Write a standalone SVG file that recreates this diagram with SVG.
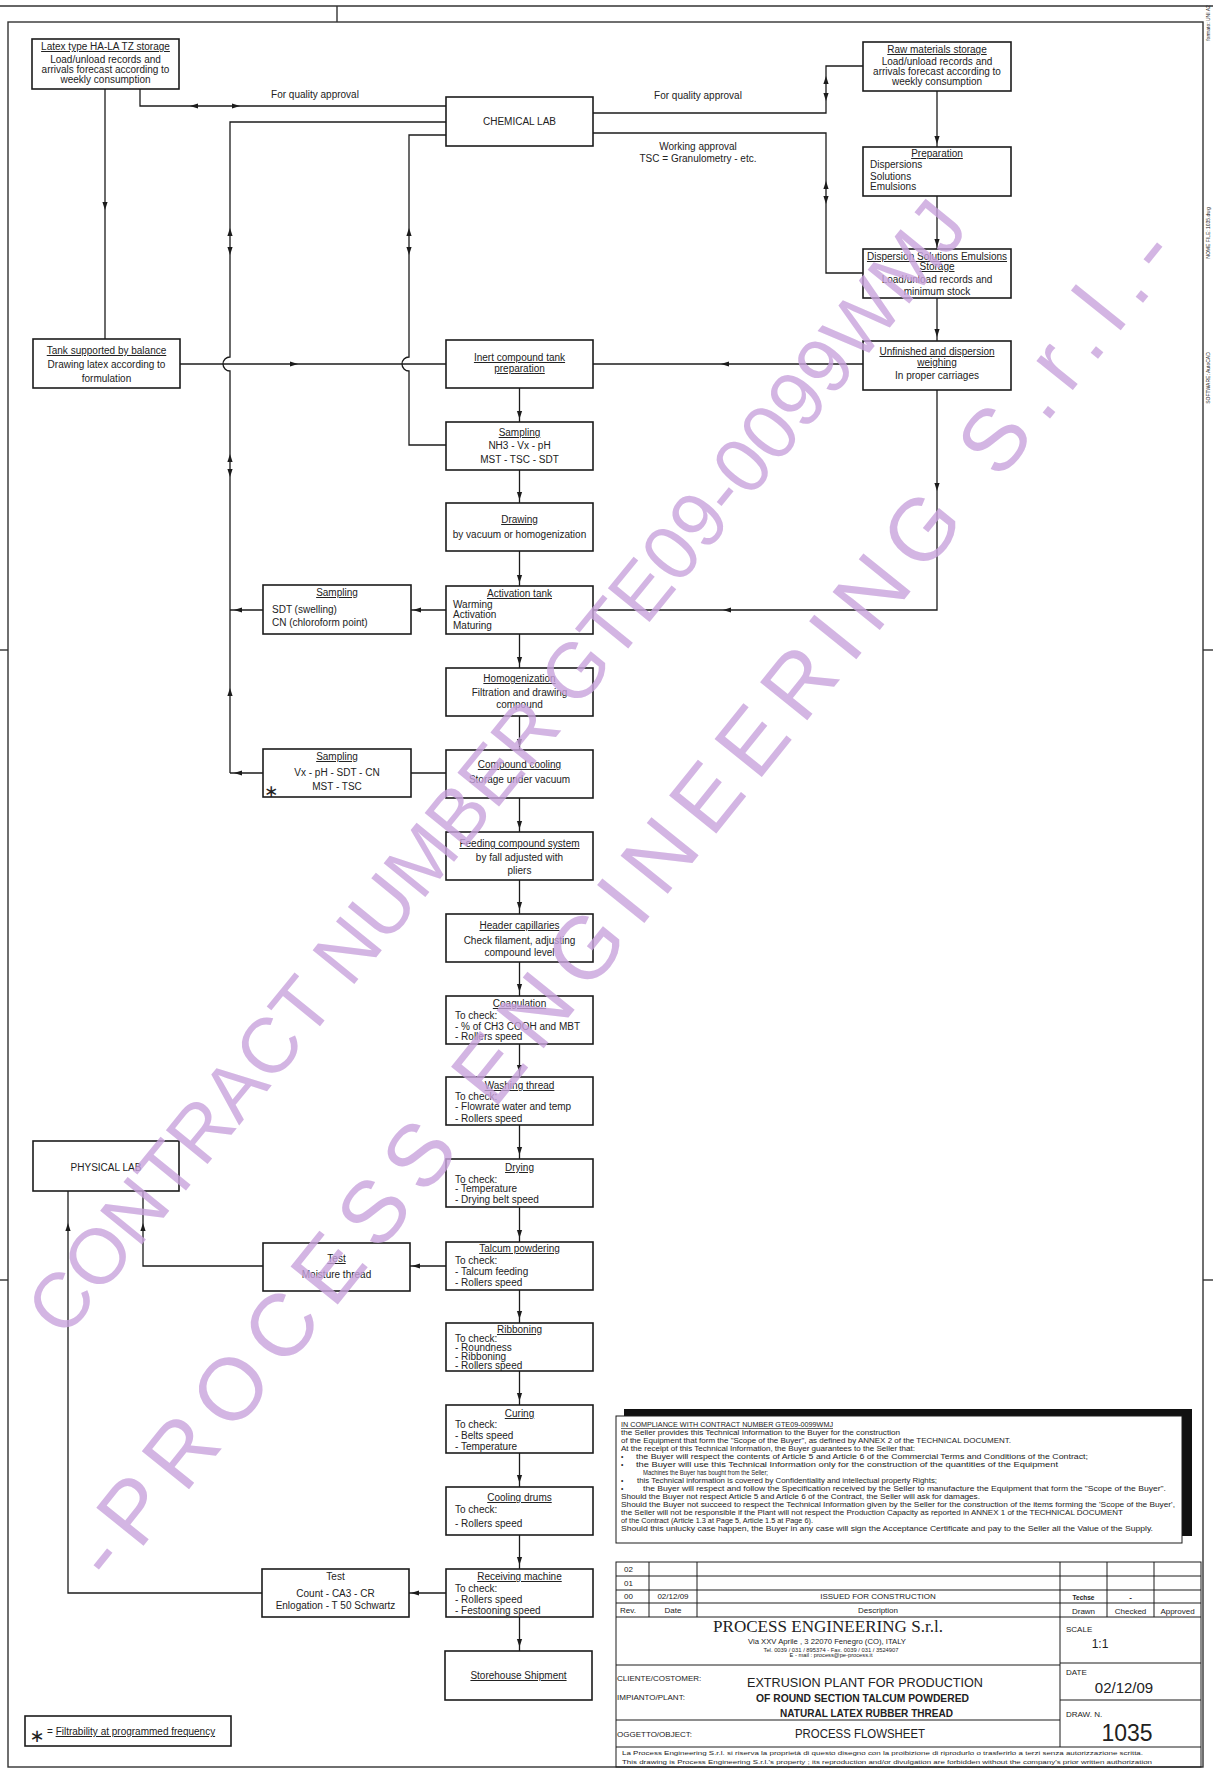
<svg xmlns="http://www.w3.org/2000/svg" width="1213" height="1769" viewBox="0 0 1213 1769">
<style>
.box{fill:#fff;stroke:#1c1c1c;stroke-width:1.6}
.ln{fill:none;stroke:#1c1c1c;stroke-width:1.3}
.fr{fill:none;stroke:#333;stroke-width:1.4}
text{font-family:"Liberation Sans",Arial,sans-serif;fill:#222}
.t{font-size:10px}
.c{text-anchor:middle}
.u{text-decoration:underline}
.s{font-size:8px}
.serif{font-family:"Liberation Serif","Times New Roman",serif}
.sym{font-family:"DejaVu Sans",sans-serif}
.wm{fill:#c9a3dd}
</style>
<defs>
<path id="ah" d="M0,0 L-8,-2.6 L-8,2.6 Z" fill="#1c1c1c"/>
</defs>
<rect width="1213" height="1769" fill="#fff"/>

<g id="frame">
<line class="fr" x1="0" y1="6" x2="1213" y2="6"/>
<line class="fr" x1="337" y1="6" x2="337" y2="22"/>
<rect class="fr" x="8" y="22" width="1195" height="1745"/>
<line class="fr" x1="0" y1="650" x2="8" y2="650"/>
<line class="fr" x1="0" y1="1280" x2="8" y2="1280"/>
<line class="fr" x1="1203" y1="650" x2="1213" y2="650"/>
<line class="fr" x1="1203" y1="1280" x2="1213" y2="1280"/>
<text font-size="5" transform="translate(1210,23) rotate(-90)" class="c">formato: UNI A2</text>
<text font-size="5" transform="translate(1210,233) rotate(-90)" class="c">NOME FILE: 1035.dwg</text>
<text font-size="5" transform="translate(1210,378) rotate(-90)" class="c">SOFTWARE: AutoCAD</text>
</g>

<g id="connectors">
<path class="ln" d="M105,89 V339"/>
<path class="ln" d="M140,89 V106 H446"/>
<path class="ln" d="M446,122 H230 V357 A7,7 0 0 0 230,371 V773"/>
<path class="ln" d="M446,135 H409 V357 A7,7 0 0 0 409,371 V445 H446"/>
<path class="ln" d="M180,364 H446"/>
<path class="ln" d="M593,113 H826 V66 H863"/>
<path class="ln" d="M593,133 H826 V273 H863"/>
<path class="ln" d="M937,91 V147 M937,196 V249 M937,298 V341"/>
<path class="ln" d="M863,364 H593"/>
<path class="ln" d="M937,390 V610 H593"/>
<path class="ln" d="M446,610 H411 M263,610 H230"/>
<path class="ln" d="M446,773 H411 M263,773 H230"/>
<path class="ln" d="M519.5,388 V422 M519.5,470 V503 M519.5,551 V586 M519.5,634 V668 M519.5,716 V750 M519.5,798 V832 M519.5,880 V914 M519.5,962 V996 M519.5,1044 V1077 M519.5,1125 V1159 M519.5,1207 V1242 M519.5,1290 V1323 M519.5,1371 V1405 M519.5,1453 V1487 M519.5,1535 V1569 M519.5,1617 V1651"/>
<path class="ln" d="M446,1266 H410 M263,1266 H143 V1191"/>
<path class="ln" d="M446,1593 H409 M262,1593 H68 V1191"/>
<use href="#ah" transform="translate(105,210) rotate(90)"/>
<use href="#ah" transform="translate(190,106) rotate(180)"/>
<use href="#ah" transform="translate(240,106)"/>
<use href="#ah" transform="translate(230,228) rotate(-90)"/>
<use href="#ah" transform="translate(230,255) rotate(90)"/>
<use href="#ah" transform="translate(409,228) rotate(-90)"/>
<use href="#ah" transform="translate(409,255) rotate(90)"/>
<use href="#ah" transform="translate(298,364)"/>
<use href="#ah" transform="translate(826,76) rotate(-90)"/>
<use href="#ah" transform="translate(826,101) rotate(90)"/>
<use href="#ah" transform="translate(826,181) rotate(-90)"/>
<use href="#ah" transform="translate(826,204) rotate(90)"/>
<use href="#ah" transform="translate(937,144) rotate(90)"/>
<use href="#ah" transform="translate(937,247) rotate(90)"/>
<use href="#ah" transform="translate(937,337) rotate(90)"/>
<use href="#ah" transform="translate(721,364) rotate(180)"/>
<use href="#ah" transform="translate(937,491) rotate(90)"/>
<use href="#ah" transform="translate(723,610) rotate(180)"/>
<use href="#ah" transform="translate(413,610) rotate(180)"/>
<use href="#ah" transform="translate(234,610) rotate(180)"/>
<use href="#ah" transform="translate(234,773) rotate(180)"/>
<use href="#ah" transform="translate(230,454) rotate(-90)"/>
<use href="#ah" transform="translate(230,477) rotate(90)"/>
<use href="#ah" transform="translate(230,688) rotate(-90)"/>
<use href="#ah" transform="translate(519.5,419) rotate(90)"/>
<use href="#ah" transform="translate(519.5,500) rotate(90)"/>
<use href="#ah" transform="translate(519.5,583) rotate(90)"/>
<use href="#ah" transform="translate(519.5,665) rotate(90)"/>
<use href="#ah" transform="translate(519.5,747) rotate(90)"/>
<use href="#ah" transform="translate(519.5,829) rotate(90)"/>
<use href="#ah" transform="translate(519.5,910) rotate(90)"/>
<use href="#ah" transform="translate(519.5,992) rotate(90)"/>
<use href="#ah" transform="translate(519.5,1073) rotate(90)"/>
<use href="#ah" transform="translate(519.5,1155) rotate(90)"/>
<use href="#ah" transform="translate(519.5,1238) rotate(90)"/>
<use href="#ah" transform="translate(519.5,1319) rotate(90)"/>
<use href="#ah" transform="translate(519.5,1401) rotate(90)"/>
<use href="#ah" transform="translate(519.5,1483) rotate(90)"/>
<use href="#ah" transform="translate(519.5,1565) rotate(90)"/>
<use href="#ah" transform="translate(519.5,1647) rotate(90)"/>
<use href="#ah" transform="translate(412,1266) rotate(180)"/>
<use href="#ah" transform="translate(143,1223) rotate(-90)"/>
<use href="#ah" transform="translate(411,1593) rotate(180)"/>
<use href="#ah" transform="translate(68,1223) rotate(-90)"/>
<text class="t c" x="315" y="98" font-size="9.6">For quality approval</text>
<text class="t c" x="698" y="99" font-size="9.6">For quality approval</text>
<text class="t c" x="698" y="150" font-size="9.6">Working approval</text>
<text class="t c" x="698" y="162" font-size="9.6">TSC = Granulometry - etc.</text>
</g>

<g id="latex"><rect class="box" x="32" y="39" width="147" height="50"/>
<text class="t c u" x="105.5" y="50">Latex type HA-LA TZ storage</text>
<text class="t c" x="105.5" y="63">Load/unload records and</text>
<text class="t c" x="105.5" y="73">arrivals forecast according to</text>
<text class="t c" x="105.5" y="83">weekly consumption</text></g>

<g id="chemlab"><rect class="box" x="446" y="97" width="147" height="49"/>
<text class="t c" x="519.5" y="125">CHEMICAL LAB</text></g>

<g id="raw"><rect class="box" x="863" y="42" width="148" height="49"/>
<text class="t c u" x="937" y="53">Raw materials storage</text>
<text class="t c" x="937" y="65">Load/unload records and</text>
<text class="t c" x="937" y="75">arrivals forecast according to</text>
<text class="t c" x="937" y="85">weekly consumption</text></g>

<g id="preparation"><rect class="box" x="863" y="147" width="148" height="49"/>
<text class="t c u" x="937" y="157">Preparation</text>
<text class="t" x="870" y="168">Dispersions</text>
<text class="t" x="870" y="180">Solutions</text>
<text class="t" x="870" y="190">Emulsions</text></g>

<g id="dispstorage"><rect class="box" x="863" y="249" width="148" height="49"/>
<text class="t c u" x="937" y="260">Dispersion Solutions Emulsions</text>
<text class="t c u" x="937" y="270">Storage</text>
<text class="t c" x="937" y="283">Load/unload records and</text>
<text class="t c" x="937" y="295">minimum stock</text></g>

<g id="unfinished"><rect class="box" x="863" y="341" width="148" height="49"/>
<text class="t c u" x="937" y="355">Unfinished and dispersion</text>
<text class="t c u" x="937" y="366">weighing</text>
<text class="t c" x="937" y="379">In proper carriages</text></g>

<g id="tank"><rect class="box" x="33" y="339" width="147" height="49"/>
<text class="t c u" x="106.5" y="354">Tank supported by balance</text>
<text class="t c" x="106.5" y="368">Drawing latex according to</text>
<text class="t c" x="106.5" y="382">formulation</text></g>

<g id="inert"><rect class="box" x="446" y="340" width="147" height="48"/>
<text class="t c u" x="519.5" y="361">Inert compound tank</text>
<text class="t c u" x="519.5" y="372">preparation</text></g>

<g id="sampling1"><rect class="box" x="446" y="422" width="147" height="48"/>
<text class="t c u" x="519.5" y="436">Sampling</text>
<text class="t c" x="519.5" y="449">NH3 - Vx - pH</text>
<text class="t c" x="519.5" y="463">MST - TSC - SDT</text></g>

<g id="drawing"><rect class="box" x="446" y="503" width="147" height="48"/>
<text class="t c u" x="519.5" y="523">Drawing</text>
<text class="t c" x="519.5" y="538">by vacuum or homogenization</text></g>

<g id="activation"><rect class="box" x="446" y="586" width="147" height="48"/>
<text class="t c u" x="519.5" y="597">Activation tank</text>
<text class="t" x="453" y="608">Warming</text>
<text class="t" x="453" y="618">Activation</text>
<text class="t" x="453" y="629">Maturing</text></g>

<g id="sampling2"><rect class="box" x="263" y="585" width="148" height="49"/>
<text class="t c u" x="337" y="596">Sampling</text>
<text class="t" x="272" y="613">SDT (swelling)</text>
<text class="t" x="272" y="626">CN (chloroform point)</text></g>

<g id="homogenization"><rect class="box" x="446" y="668" width="147" height="48"/>
<text class="t c u" x="519.5" y="682">Homogenization</text>
<text class="t c" x="519.5" y="696">Filtration and drawing</text>
<text class="t c" x="519.5" y="708">compound</text></g>

<g id="cooling"><rect class="box" x="446" y="750" width="147" height="48"/>
<text class="t c u" x="519.5" y="768">Compound cooling</text>
<text class="t c" x="519.5" y="783">Storage under vacuum</text></g>

<g id="sampling3"><rect class="box" x="263" y="749" width="148" height="48"/>
<text class="t c u" x="337" y="760">Sampling</text>
<text class="t c" x="337" y="776">Vx - pH - SDT - CN</text>
<text class="t c" x="337" y="790">MST - TSC</text>
<text x="271" y="797" font-size="17" class="c sym">∗</text></g>

<g id="feeding"><rect class="box" x="446" y="832" width="147" height="48"/>
<text class="t c u" x="519.5" y="847">Feeding compound system</text>
<text class="t c" x="519.5" y="861">by fall adjusted with</text>
<text class="t c" x="519.5" y="874">pliers</text></g>

<g id="header"><rect class="box" x="446" y="914" width="147" height="48"/>
<text class="t c u" x="519.5" y="929">Header capillaries</text>
<text class="t c" x="519.5" y="944">Check filament, adjusting</text>
<text class="t c" x="519.5" y="956">compound level</text></g>

<g id="coagulation"><rect class="box" x="446" y="996" width="147" height="48"/>
<text class="t c u" x="519.5" y="1007">Coagulation</text>
<text class="t" x="455" y="1019">To check:</text>
<text class="t" x="455" y="1030">- % of CH3 COOH and MBT</text>
<text class="t" x="455" y="1040">- Rollers speed</text></g>

<g id="washing"><rect class="box" x="446" y="1077" width="147" height="48"/>
<text class="t c u" x="519.5" y="1089">Washing thread</text>
<text class="t" x="455" y="1100">To check:</text>
<text class="t" x="455" y="1110">- Flowrate water and temp</text>
<text class="t" x="455" y="1122">- Rollers speed</text></g>

<g id="drying"><rect class="box" x="446" y="1159" width="147" height="48"/>
<text class="t c u" x="519.5" y="1171">Drying</text>
<text class="t" x="455" y="1183">To check:</text>
<text class="t" x="455" y="1192">- Temperature</text>
<text class="t" x="455" y="1203">- Drying belt speed</text></g>

<g id="talcum"><rect class="box" x="446" y="1242" width="147" height="48"/>
<text class="t c u" x="519.5" y="1252">Talcum powdering</text>
<text class="t" x="455" y="1264">To check:</text>
<text class="t" x="455" y="1275">- Talcum feeding</text>
<text class="t" x="455" y="1286">- Rollers speed</text></g>

<g id="test1"><rect class="box" x="263" y="1243" width="147" height="48"/>
<text class="t c u" x="336.5" y="1262">Test</text>
<text class="t c" x="336.5" y="1278">Moisture thread</text></g>

<g id="physlab"><rect class="box" x="33" y="1141" width="146" height="50"/>
<text class="t c" x="106" y="1171">PHYSICAL LAB</text></g>

<g id="ribboning"><rect class="box" x="446" y="1323" width="147" height="48"/>
<text class="t c u" x="519.5" y="1333">Ribboning</text>
<text class="t" x="455" y="1342">To check:</text>
<text class="t" x="455" y="1351">- Roundness</text>
<text class="t" x="455" y="1360">- Ribboning</text>
<text class="t" x="455" y="1369">- Rollers speed</text></g>

<g id="curing"><rect class="box" x="446" y="1405" width="147" height="48"/>
<text class="t c u" x="519.5" y="1417">Curing</text>
<text class="t" x="455" y="1428">To check:</text>
<text class="t" x="455" y="1439">- Belts speed</text>
<text class="t" x="455" y="1450">- Temperature</text></g>

<g id="drums"><rect class="box" x="446" y="1487" width="147" height="48"/>
<text class="t c u" x="519.5" y="1501">Cooling drums</text>
<text class="t" x="455" y="1513">To check:</text>
<text class="t" x="455" y="1527">- Rollers speed</text></g>

<g id="receiving"><rect class="box" x="446" y="1569" width="147" height="48"/>
<text class="t c u" x="519.5" y="1580">Receiving machine</text>
<text class="t" x="455" y="1592">To check:</text>
<text class="t" x="455" y="1603">- Rollers speed</text>
<text class="t" x="455" y="1614">- Festooning speed</text></g>

<g id="test2"><rect class="box" x="262" y="1569" width="147" height="48"/>
<text class="t c" x="335.5" y="1580">Test</text>
<text class="t c" x="335.5" y="1597">Count - CA3 - CR</text>
<text class="t c" x="335.5" y="1609">Enlogation - T 50 Schwartz</text></g>

<g id="storehouse"><rect class="box" x="445" y="1651" width="147" height="49"/>
<text class="t c u" x="518.5" y="1679">Storehouse Shipment</text></g>

<g id="footnote"><rect class="box" x="25" y="1716" width="206" height="30"/>
<text x="37" y="1742" font-size="18" class="c sym">∗</text>
<text class="t" x="47" y="1735">= <tspan class="u">Filtrability at programmed frequency</tspan></text></g>

<g id="notes">
<rect x="624" y="1409" width="568" height="127" fill="#111"/>
<rect x="616" y="1416" width="566" height="127" fill="#fff" stroke="#1c1c1c" stroke-width="1"/>
<g font-size="6.6">
<text x="621" y="1427" textLength="212" lengthAdjust="spacingAndGlyphs" class="u">IN COMPLIANCE WITH CONTRACT NUMBER GTE09-0099WMJ</text>
<text x="621" y="1435" textLength="279" lengthAdjust="spacingAndGlyphs">the Seller provides this Technical Information to the Buyer for the construction</text>
<text x="621" y="1443" textLength="390" lengthAdjust="spacingAndGlyphs">of the Equipment that form the "Scope of the Buyer", as defined by ANNEX 2 of the TECHNICAL DOCUMENT.</text>
<text x="621" y="1451" textLength="294" lengthAdjust="spacingAndGlyphs">At the receipt of this Technical Information, the Buyer guarantees to the Seller that:</text>
<text x="621" y="1459">•</text><text x="636" y="1459" textLength="452" lengthAdjust="spacingAndGlyphs">the Buyer will respect the contents of Article 5 and Article 6 of the Commercial Terms and Conditions of the Contract;</text>
<text x="621" y="1467">•</text><text x="636" y="1467" textLength="422" lengthAdjust="spacingAndGlyphs">the Buyer will use this Technical Information only for the construction of the quantities of the Equipment</text>
<text x="643" y="1475" textLength="125" lengthAdjust="spacingAndGlyphs">Machines the Buyer has bought from the Seller;</text>
<text x="621" y="1483">•</text><text x="637" y="1483" textLength="300" lengthAdjust="spacingAndGlyphs">this Technical information is covered by Confidentiality and intellectual property Rights;</text>
<text x="621" y="1491">•</text><text x="643" y="1491" textLength="523" lengthAdjust="spacingAndGlyphs">the Buyer will respect and follow the Specification received by the Seller to manufacture the Equipment that form the "Scope of the Buyer".</text>
<text x="621" y="1499" textLength="359" lengthAdjust="spacingAndGlyphs">Should the Buyer not respect Article 5 and Article 6 of the Contract, the Seller will ask for damages.</text>
<text x="621" y="1507" textLength="554" lengthAdjust="spacingAndGlyphs">Should the Buyer not succeed to respect the Technical Information given by the Seller for the construction of the items forming the 'Scope of the Buyer',</text>
<text x="621" y="1515" textLength="502" lengthAdjust="spacingAndGlyphs">the Seller will not be responsible if the Plant will not respect the Production Capacity as reported in ANNEX 1 of the TECHNICAL DOCUMENT</text>
<text x="621" y="1523" textLength="192" lengthAdjust="spacingAndGlyphs">of the Contract (Article 1.3 at Page 5, Article 1.5 at Page 6).</text>
<text x="621" y="1531" textLength="532" lengthAdjust="spacingAndGlyphs">Should this unlucky case happen, the Buyer in any case will sign the Acceptance Certificate and pay to the Seller all the Value of the Supply.</text>
</g>
</g>

<g id="titleblock" fill="none" stroke="#1c1c1c" stroke-width="1">
<rect x="616" y="1562" width="585" height="205"/>
<path d="M616,1576 H1201 M616,1590 H1201 M616,1603 H1201 M616,1617 H1201 M616,1665 H1060 M1060,1663 H1201 M1060,1700 H1201 M616,1720 H1060 M616,1747 H1201"/>
<path d="M649,1562 V1617 M697,1562 V1617 M1060,1562 V1747 M1107,1562 V1617 M1154,1562 V1617"/>
</g>
<g id="titletext">
<text class="s" x="624" y="1572">02</text>
<text class="s" x="624" y="1586">01</text>
<text class="s" x="624" y="1599">00</text>
<text class="s" x="620" y="1613">Rev.</text>
<text class="s c" x="673" y="1599">02/12/09</text>
<text class="s c" x="673" y="1613">Date</text>
<text class="s c" x="878" y="1599">ISSUED FOR CONSTRUCTION</text>
<text class="s c" x="878" y="1613">Description</text>
<text class="c" x="1083.5" y="1600" font-size="6.5" font-weight="bold">Techse</text>
<text class="s c" x="1130.5" y="1600" font-weight="bold">-</text>
<text class="s c" x="1083.5" y="1614">Drawn</text>
<text class="s c" x="1130.5" y="1614">Checked</text>
<text class="s c" x="1177.5" y="1614">Approved</text>
<text class="serif" x="713" y="1632" font-size="17" textLength="230" lengthAdjust="spacingAndGlyphs">PROCESS  ENGINEERING  S.r.l.</text>
<text class="c" x="827" y="1644" font-size="7.2" textLength="158" lengthAdjust="spacingAndGlyphs">Via XXV Aprile , 3 22070 Fenegro (CO), ITALY</text>
<text class="c" x="831" y="1651.5" font-size="4.6" textLength="135" lengthAdjust="spacingAndGlyphs">Tel. 0039 / 031 / 895374 - Fax. 0039 / 031 / 3524907</text>
<text class="c" x="831" y="1657" font-size="4.6" textLength="83" lengthAdjust="spacingAndGlyphs">E - mail : process@pe-process.it</text>
<text class="s" x="1066" y="1632">SCALE</text>
<text x="1100" y="1648" font-size="12" class="c">1:1</text>
<text class="s" x="1066" y="1675">DATE</text>
<text x="1124" y="1693" font-size="15" class="c">02/12/09</text>
<text class="s" x="1066" y="1717">DRAW. N.</text>
<text x="1127" y="1741" font-size="23" class="c">1035</text>
<text class="s" x="617" y="1681">CLIENTE/COSTOMER:</text>
<text class="s" x="617" y="1700">IMPIANTO/PLANT:</text>
<text class="s" x="617" y="1737">OGGETTO/OBJECT:</text>
<text class="c" x="865" y="1687" font-size="13" textLength="236" lengthAdjust="spacingAndGlyphs">EXTRUSION PLANT FOR PRODUCTION</text>
<text class="c" x="862.5" y="1701.5" font-size="10.5" font-weight="bold" textLength="213" lengthAdjust="spacingAndGlyphs">OF ROUND SECTION TALCUM POWDERED</text>
<text class="c" x="866.5" y="1716.5" font-size="10.5" font-weight="bold" textLength="173" lengthAdjust="spacingAndGlyphs">NATURAL LATEX RUBBER THREAD</text>
<text class="c" x="860" y="1738" font-size="13" textLength="130" lengthAdjust="spacingAndGlyphs">PROCESS FLOWSHEET</text>
<text x="622" y="1755" font-size="5.5" textLength="521" lengthAdjust="spacingAndGlyphs">La Process Engineering S.r.l. si riserva la proprietà di questo disegno con la proibizione di riprodurlo o trasferirlo a terzi senza autorizzazione scritta.</text>
<text x="622" y="1764" font-size="5.5" textLength="530" lengthAdjust="spacingAndGlyphs">This drawing is Process Engineering S.r.l.'s property ; its reproduction and/or divulgation are forbidden without the company's prior written authorization</text>
</g>

<g id="watermark" opacity="0.8">
<text class="wm" transform="translate(64,1340) rotate(-50.8)" font-size="78" textLength="1435" lengthAdjust="spacingAndGlyphs">CONTRACT NUMBER GTE09-0099WMJ</text>
<text class="wm" transform="translate(112,1585) rotate(-51.2)" font-size="88" textLength="1705" lengthAdjust="spacing">-PROCESS ENGINEERING S.r.l.-</text>
</g>
</svg>
